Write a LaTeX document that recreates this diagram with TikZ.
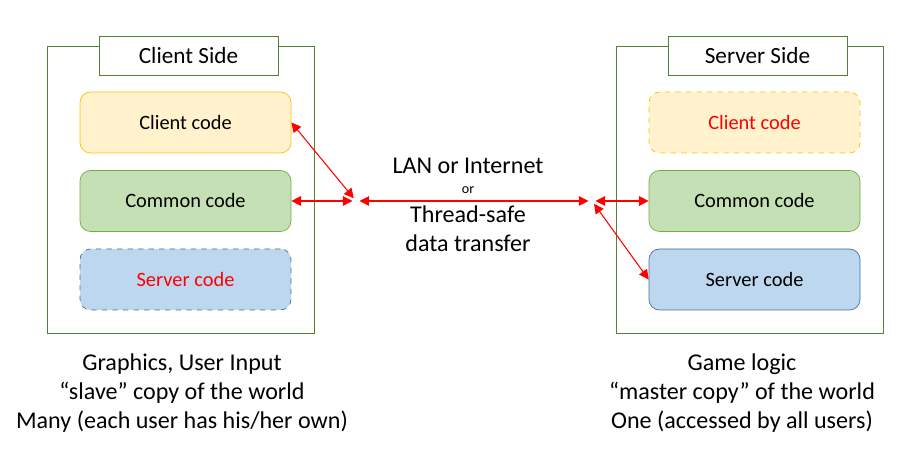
\documentclass[tikz,border=0pt]{standalone}
\usepackage{fontspec}
\setmainfont{Carlito}
\usetikzlibrary{arrows.meta}
\definecolor{sidegreen}{HTML}{548235}
\definecolor{clientfill}{HTML}{FFF2CC}
\definecolor{clientline}{HTML}{FFC000}
\definecolor{commonfill}{HTML}{C5E0B4}
\definecolor{commonline}{HTML}{70AD47}
\definecolor{serverfill}{HTML}{BDD7EE}
\definecolor{serverline}{HTML}{41719C}
\tikzset{
  side/.style={draw=sidegreen, minimum width=5.34cm, minimum height=5.74cm},
  sidetitle/.style={draw=sidegreen, fill=white, minimum width=3.58cm, minimum height=0.78cm, font=\fontsize{13.2}{15}\selectfont},
  codebox/.style={rounded corners=6pt, minimum width=4.22cm, minimum height=1.22cm, font=\fontsize{11.6}{13}\selectfont},
  clientbox/.style={codebox, draw=clientline, fill=clientfill},
  commonbox/.style={codebox, draw=commonline, fill=commonfill},
  serverbox/.style={codebox, draw=serverline, fill=serverfill},
  link/.style={red, line width=0.6pt, {Triangle[length=5.5pt,width=5.5pt]}-{Triangle[length=5.5pt,width=5.5pt]}},
  note/.style={align=center, font=\fontsize{13.7}{16.5}\selectfont}
}
\begin{document}
\begin{tikzpicture}
            \useasboundingbox (0,0) rectangle (18,9.28);
            % client side
            \node[side] (cs) at (3.61,5.49) {};
            \node[sidetitle] (cst) at (3.77,8.17) {Client Side};
            \node[clientbox] (c1) at (3.71,6.83) {Client code};
            \node[commonbox] (c2) at (3.71,5.26) {Common code};
            \node[serverbox, dashed] (c3) at (3.71,3.69) {\textcolor{red}{Server code}};
            % server side
            \node[side] (ss) at (14.99,5.49) {};
            \node[sidetitle] (sst) at (15.15,8.17) {Server Side};
            \node[clientbox, dashed] (s1) at (15.09,6.83) {\textcolor{red}{Client code}};
            \node[commonbox] (s2) at (15.09,5.26) {Common code};
            \node[serverbox] (s3) at (15.09,3.69) {Server code};
            % link in the middle
            \coordinate (jl) at (7.12,5.26);
            \coordinate (jr) at (11.84,5.26);
            \node[note] (lan) at (9.36,5.96) {LAN or Internet};
            \node[font=\fontsize{8}{9}\selectfont] (or) at (9.36,5.48) {or};
            \node[note] (ts) at (9.36,4.71) {Thread-safe\\data transfer};
            \draw[link, shorten >=2pt] (c1.east) -- (jl);
            \draw[link, shorten >=2pt] (c2.east) -- (jl);
            \draw[link, shorten <=2pt, shorten >=2pt] (jl) -- (jr);
            \draw[link, shorten <=2pt] (jr) -- (s2.west);
            \draw[link, shorten <=2pt] (jr) -- (s3.west);
            % notes below
            \node[note] (cn) at (3.64,1.42) {Graphics, User Input\\``slave'' copy of the world\\Many (each user has his/her own)};
            \node[note] (sn) at (14.84,1.42) {Game logic\\``master copy'' of the world\\One (accessed by all users)};
        \end{tikzpicture}
\end{document}
